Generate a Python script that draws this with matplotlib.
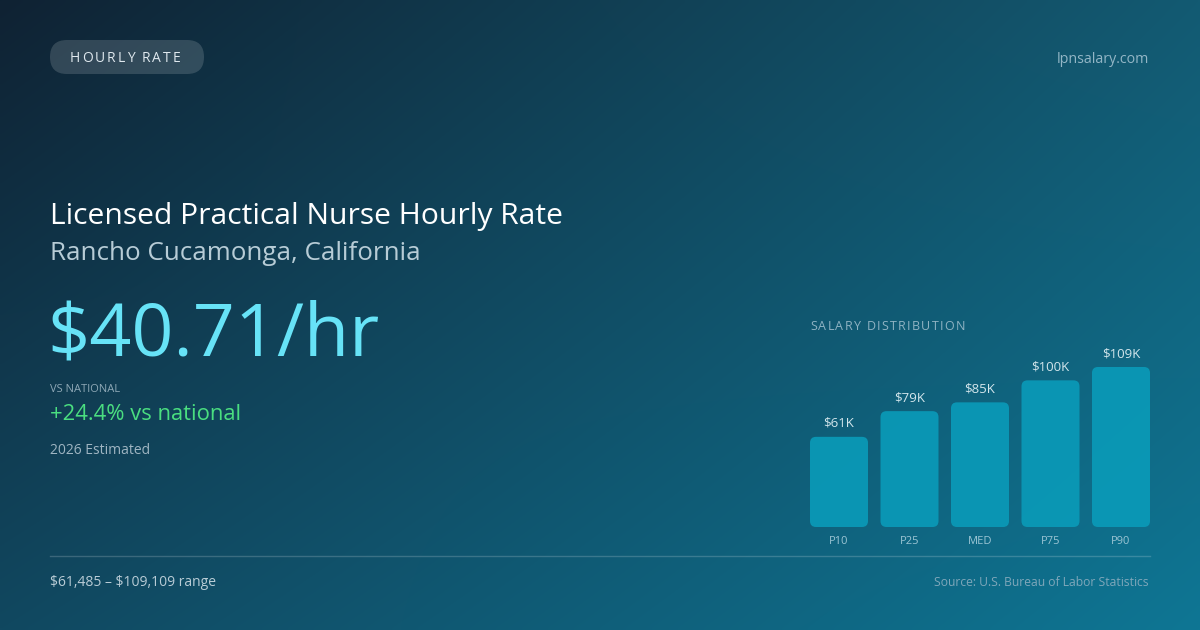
import numpy as np
import matplotlib
matplotlib.use("Agg")
import matplotlib.pyplot as plt
from matplotlib.patches import FancyBboxPatch

plt.rcParams['font.family'] = ['Open Sans', 'DejaVu Sans']

# data
percentiles = ["P10", "P25", "MED", "P75", "P90"]
salaries_k = [61.485, 79, 85, 100, 109.109]
bar_labels = ["$61K", "$79K", "$85K", "$100K", "$109K"]

badge = "HOURLY RATE"
site = "lpnsalary.com"
title = "Licensed Practical Nurse Hourly Rate"
location = "Rancho Cucamonga, California"
hourly = "$40.71/hr"
vs_label = "VS NATIONAL"
vs_value = "+24.4% vs national"
estimate_note = "2026 Estimated"
range_text = "$61,485 \u2013 $109,109 range"
source = "Source: U.S. Bureau of Labor Statistics"

W, H = 1200, 630
fig = plt.figure(figsize=(12, 6.3), dpi=100)

# background gradient (corner colours)
bg = fig.add_axes([0, 0, 1, 1])
bg.set_axis_off()
tl = np.array([15, 34, 51]) / 255
tr = np.array([19, 90, 114]) / 255
bl = np.array([17, 72, 96]) / 255
br = np.array([14, 118, 148]) / 255
u = np.linspace(0, 1, 300)[None, :, None]
v = np.linspace(0, 1, 160)[:, None, None]
img = (1 - v) * ((1 - u) * tl + u * tr) + v * ((1 - u) * bl + u * br)
bg.imshow(img, extent=[0, W, H, 0], aspect='auto', interpolation='bilinear')
bg.set_xlim(0, W)
bg.set_ylim(H, 0)


def px(x, y):
    return x / W, 1 - y / H


def txt(x, y, s, size, color, **kw):
    fx, fy = px(x, y)
    return fig.text(fx, fy, s, fontsize=size, color=color, va='baseline',
                    parse_math=False, **kw)


def spaced(x, y, s, size, color, spacing):
    r = fig.canvas.get_renderer()
    cx = x
    for ch in s:
        t = txt(cx, y, ch, size, color)
        w = t.get_window_extent(renderer=r).width if ch != " " else size * 0.36
        cx += w + spacing


# badge pill
pill = FancyBboxPatch((50, 40), 154, 34,
                      boxstyle="round,pad=0,rounding_size=17",
                      fc=(1, 1, 1, 0.15), ec='none')
bg.add_patch(pill)
spaced(70, 62, badge, 10, '#dfe8ee', 1.95)

txt(1149, 63, site, 10.3, '#93b6c6', ha='right')

txt(50, 224, title, 21.6, 'white')
txt(50, 260, location, 18.7, '#b7ccd6')
txt(47, 356, hourly, 53, '#67e3f7')
txt(50, 392, vs_label, 8, '#8ea8b6')
txt(50, 420, vs_value, 15.8, '#4ade80')
txt(50, 454, estimate_note, 10, '#9fb5c2')

bg.plot([50, 1150], [556, 556], color=(1, 1, 1, 0.18), lw=1)

txt(50, 586, range_text, 10, '#b9ccd6')
txt(1149, 586, source, 8.7, '#7fa7ba', ha='right')

spaced(810, 330, "SALARY DISTRIBUTION", 9, '#8fb3c3', 1.3)

# bar chart
ax = fig.add_axes([810 / W, 1 - 527 / H, 340 / W, 160 / H])
ax.set_axis_off()
xs = np.arange(len(percentiles))
bw = 58 / 70.5
bars = ax.bar(xs, salaries_k, width=bw, color='none')
ax.set_xlim(-bw / 2, len(xs) - 1 + bw / 2)
ax.set_ylim(0, max(salaries_k))

xpp = (len(xs) - 1 + bw) / 340
ypp = max(salaries_k) / 160
for b, lab, name in zip(bars, bar_labels, percentiles):
    x0, y0, w, h = b.get_x(), b.get_y(), b.get_width(), b.get_height()
    p = FancyBboxPatch((x0, y0), w, h,
                       boxstyle=f"round,pad=0,rounding_size={6 * xpp}",
                       mutation_aspect=ypp / xpp,
                       fc='#0a9ab8', ec='none', alpha=0.92)
    ax.add_patch(p)
    ax.annotate(lab, (x0 + w / 2, h), xytext=(0, 7), textcoords='offset pixels',
                ha='center', va='bottom', fontsize=9.5, color='#d3e6ec',
                annotation_clip=False)
    ax.annotate(name, (x0 + w / 2, 0), xytext=(0, -17), textcoords='offset pixels',
                ha='center', va='baseline', fontsize=8, color='#9cc5d4',
                annotation_clip=False)

fig.savefig("out.png", dpi=100)
